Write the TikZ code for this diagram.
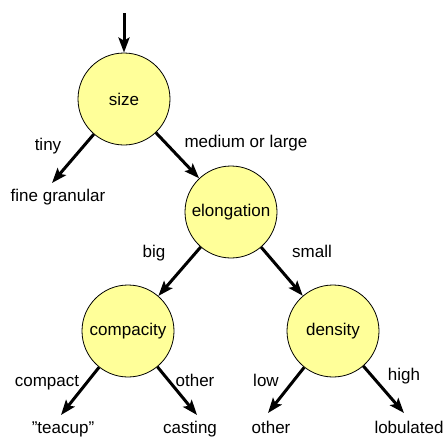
\documentclass[tikz,border=0pt]{standalone}
\usepackage{fontspec}
\setmainfont{Liberation Sans}
\usetikzlibrary{arrows.meta}

\definecolor{testyellow}{RGB}{255,255,153}

\tikzset{
    test/.style={circle, draw, line width=0.8pt, fill=testyellow,
        minimum size=92pt, inner sep=0pt, font=\fontsize{17}{20}\selectfont},
    txt/.style={anchor=base, inner sep=0pt, font=\fontsize{17}{20}\selectfont},
    branch/.style={line width=3pt, -{Stealth[length=15pt,width=11pt,inset=3pt]}}
}

\begin{document}
\begin{tikzpicture}[x=1pt,y=-1pt]
    \useasboundingbox (0,0) rectangle (445,437);

    % tests (circles)
    \node[test] (size) at (124,99) {size};
    \node[test] (elong) at (231,212) {elongation};
    \node[test] (compac) at (128,331) {compacity};
    \node[test] (dens) at (333,331) {density};

    % arrow tips of the leaves
    \coordinate (entry) at (124,13);
    \coordinate (tipfine) at (52,183);
    \coordinate (tipteacup) at (61,415);
    \coordinate (tipcasting) at (197,415);
    \coordinate (tipother) at (268,413);
    \coordinate (tiplobul) at (404,413);

    % leaves
    \node[txt] (fine) at (58,201) {fine granular};
    \node[txt] (teacup) at (63,433) {\char34 teacup\char34};
    \node[txt] (casting) at (190,433) {casting};
    \node[txt] (other) at (271,433) {other};
    \node[txt] (lobul) at (409,433) {lobulated};

    % branches
    \draw[branch] (entry) -- (size);
    \draw[branch] (size) -- (tipfine);
    \draw[branch] (size) -- (elong);
    \draw[branch] (elong) -- (compac);
    \draw[branch] (elong) -- (dens);
    \draw[branch] (compac) -- (tipteacup);
    \draw[branch] (compac) -- (tipcasting);
    \draw[branch] (dens) -- (tipother);
    \draw[branch] (dens) -- (tiplobul);

    % branch labels
    \node[txt] (tiny) at (48,150) {tiny};
    \node[txt] (medlarge) at (246,147) {medium or large};
    \node[txt] (big) at (154,257) {big};
    \node[txt] (small) at (312,257) {small};
    \node[txt] (compact) at (47,386) {compact};
    \node[txt] (otherc) at (195,386) {other};
    \node[txt] (low) at (266,386) {low};
    \node[txt] (high) at (404,380) {high};
\end{tikzpicture}
\end{document}
